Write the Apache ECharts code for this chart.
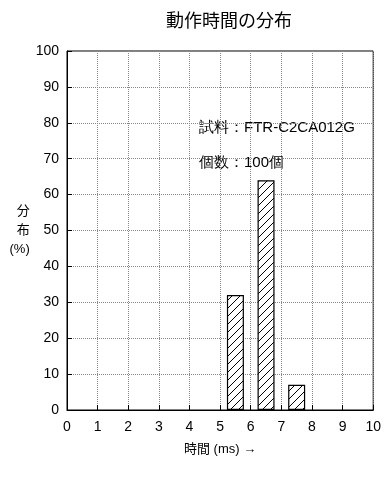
<!DOCTYPE html>
<html><head><meta charset="utf-8">
<script src="https://cdn.jsdelivr.net/npm/echarts@6/dist/echarts.min.js"></script>
<style>html,body{margin:0;padding:0;background:#fff}#c{width:384px;height:477px}</style>
</head><body><div id="c"></div>
<script>
var binCenters = [5.5, 6.5, 7.5];
var percents = [32, 64, 7];
var xTicks = [0,1,2,3,4,5,6,7,8,9,10];
var yTicks = [0,10,20,30,40,50,60,70,80,90,100];
var title = '動作時間の分布';
var noteLines = ['試料：FTR-C2CA012G', '個数：100個'];

var FONT = '"Liberation Sans","Noto Sans CJK JP",sans-serif';
var S = 8;
var pc = document.createElement('canvas');
pc.width = S; pc.height = S;
var g = pc.getContext('2d');
g.fillStyle = '#fff'; g.fillRect(0,0,S,S);
g.strokeStyle = '#000'; g.lineWidth = 1;
g.beginPath();
g.moveTo(-1,S+1); g.lineTo(S+1,-1);
g.moveTo(-1,1); g.lineTo(1,-1);
g.moveTo(S-1,S+1); g.lineTo(S+1,S-1);
g.stroke();

var chart = echarts.init(document.getElementById('c'), null, {renderer:'canvas'});
chart.setOption({
  animation:false,
  textStyle:{fontFamily:FONT},
  title:{text:title,left:224,top:8,textAlign:'center',textStyle:{fontSize:18,fontWeight:'normal',color:'#000',fontFamily:FONT}},
  grid:{left:67,right:8,top:51,bottom:67,show:true,borderColor:'#000',borderWidth:1},
  xAxis:{type:'value',min:0,max:10,interval:1,
    name:'時間 (ms) →',nameLocation:'middle',nameGap:33,
    nameTextStyle:{fontSize:13,color:'#000',fontFamily:FONT},
    axisLine:{lineStyle:{color:'#000'}},
    axisTick:{inside:true,length:5,lineStyle:{color:'#000'}},
    axisLabel:{fontSize:14,color:'#000',margin:10,fontFamily:FONT},
    splitLine:{show:true,lineStyle:{type:'dotted',color:'#888',width:1}}},
  yAxis:{type:'value',min:0,max:100,interval:10,
    name:'分\n布\n(%)',nameLocation:'middle',nameRotate:0,nameGap:36,
    nameTextStyle:{fontSize:13,color:'#000',lineHeight:19,fontFamily:FONT},
    axisLine:{lineStyle:{color:'#000'}},
    axisTick:{inside:true,length:5,lineStyle:{color:'#000'}},
    axisLabel:{fontSize:14,color:'#000',margin:8,fontFamily:FONT},
    splitLine:{show:true,lineStyle:{type:'dotted',color:'#888',width:1}}},
  series:[{type:'bar',barWidth:17,
    data:binCenters.map(function(x,i){return [x,percents[i]];}),
    itemStyle:{color:{image:pc,repeat:'repeat'},borderColor:'#000',borderWidth:1.2}}],
  graphic:[
    {type:'text',left:199,top:120,style:{text:noteLines[0],fontSize:15,fill:'#000',font:'15px '+FONT}},
    {type:'text',left:199,top:155,style:{text:noteLines[1],fontSize:15,fill:'#000',font:'15px '+FONT}}
  ]
});
</script></body></html>
